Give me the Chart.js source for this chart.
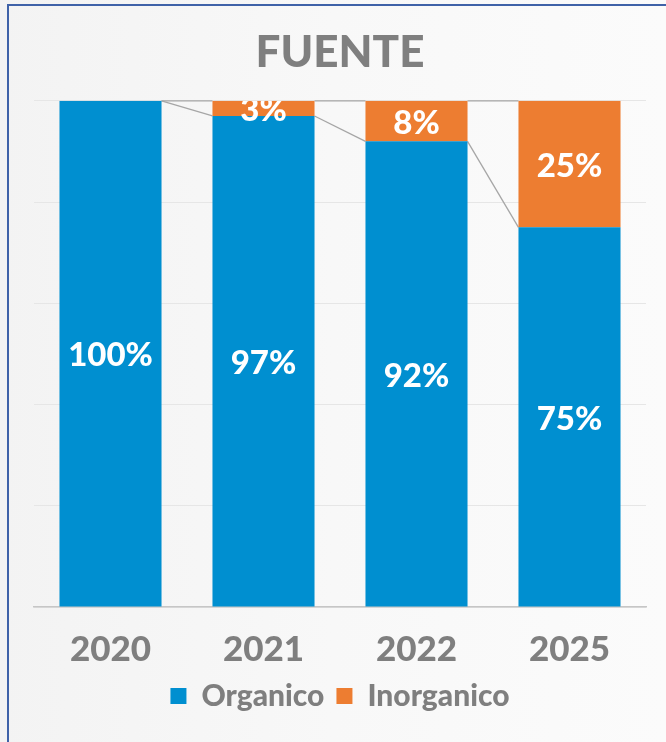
<!DOCTYPE html>
<html>
<head>
<meta charset="utf-8">
<script src="https://cdn.jsdelivr.net/npm/chart.js@4/dist/chart.umd.min.js"></script>
<style>
  html, body { margin: 0; padding: 0; width: 666px; height: 742px; overflow: hidden; }
  body { background: linear-gradient(90deg, #f3f3f3 0%, #f8f8f8 50%, #fbfbfb 100%); position: relative; }
  #frame { position: absolute; left: 7px; top: 4px; width: 700px; height: 800px; border-left: 2px solid #3f62a8; border-top: 2px solid #3f62a8; box-sizing: border-box; }
  #wrap { position: absolute; left: 0; top: 0; width: 666px; height: 742px; }
</style>
</head>
<body>
<div id="frame"></div>
<div id="wrap"><canvas id="c" width="666" height="742"></canvas></div>
<script>
const categories = ["2020", "2021", "2022", "2025"];
const organico = [100, 97, 92, 75];
const inorganico = [0, 3, 8, 25];
const seriesNames = ["Organico", "Inorganico"];
const yTicks = [0, 20, 40, 60, 80, 100];

const FONT = "Lato, 'Open Sans', sans-serif";
const GREY = "#7f7f7f";

const seriesLines = {
  id: "seriesLines",
  beforeDatasetsDraw(chart) {
    const ctx = chart.ctx;
    ctx.save();
    ctx.strokeStyle = "#a6a6a6";
    ctx.lineWidth = 1.3;
    chart.data.datasets.forEach((ds, di) => {
      const meta = chart.getDatasetMeta(di);
      for (let i = 0; i < meta.data.length - 1; i++) {
        const a = meta.data[i], b = meta.data[i + 1];
        ctx.beginPath();
        ctx.moveTo(a.x + a.width / 2, a.y);
        ctx.lineTo(b.x - b.width / 2, b.y);
        ctx.stroke();
      }
    });
    ctx.restore();
  }
};

const valueLabels = {
  id: "valueLabels",
  afterDatasetsDraw(chart) {
    const ctx = chart.ctx;
    const ca = chart.chartArea;
    ctx.save();
    ctx.beginPath();
    ctx.rect(ca.left, ca.top, ca.right - ca.left, ca.bottom - ca.top);
    ctx.clip();
    ctx.fillStyle = "#ffffff";
    ctx.font = "900 33px " + FONT;
    ctx.textAlign = "center";
    ctx.textBaseline = "middle";
    chart.data.datasets.forEach((ds, di) => {
      const meta = chart.getDatasetMeta(di);
      meta.data.forEach((el, i) => {
        const v = ds.data[i];
        if (!v) return;
        const cy = (el.y + el.base) / 2 + 2;
        ctx.fillText(v + "%", el.x, cy);
      });
    });
    ctx.restore();
  }
};

new Chart(document.getElementById("c"), {
  type: "bar",
  data: {
    labels: categories,
    datasets: [
      { label: seriesNames[0], data: organico, backgroundColor: "#008fd0", categoryPercentage: 1, barPercentage: 0.667 },
      { label: seriesNames[1], data: inorganico, backgroundColor: "#ed7d31", categoryPercentage: 1, barPercentage: 0.667 }
    ]
  },
  options: {
    responsive: false,
    animation: false,
    layout: { padding: { left: 34, right: 20, top: 20, bottom: 21 } },
    plugins: {
      title: {
        display: true,
        text: "FUENTE",
        color: GREY,
        font: { family: FONT, size: 44, weight: "900" },
        padding: { top: 6, bottom: 22 }
      },
      legend: {
        position: "bottom",
        labels: {
          color: GREY,
          font: { family: FONT, size: 30, weight: "900" },
          boxWidth: 16,
          boxHeight: 16,
          padding: 12,
          useBorderRadius: false
        }
      },
      tooltip: { enabled: false }
    },
    scales: {
      x: {
        stacked: true,
        grid: { display: false },
        border: { display: true, color: "#c6c6c6", width: 1.5 },
        ticks: { color: GREY, font: { family: FONT, size: 35, weight: "900" }, padding: 14 },
        afterFit(scale) { scale.height -= 16; }
      },
      y: {
        stacked: true,
        min: 0,
        max: 100,
        afterBuildTicks(scale) { scale.ticks = yTicks.map(v => ({ value: v })); },
        afterFit(scale) { scale.width = 0; },
        grid: { color: "#e6e6e6", drawTicks: false },
        border: { display: false },
        ticks: { display: false }
      }
    }
  },
  plugins: [seriesLines, valueLabels]
});
</script>
</body>
</html>
